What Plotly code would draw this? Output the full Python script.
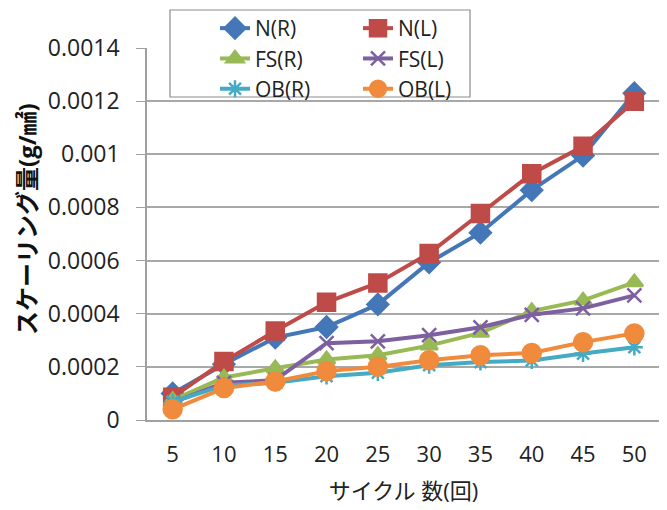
import plotly.graph_objects as go

cycles = ["5", "10", "15", "20", "25", "30", "35", "40", "45", "50"]
n_r = [0.000100, 0.000210, 0.000310, 0.000350, 0.000435, 0.000593, 0.000705, 0.000865, 0.000995, 0.001230]
n_l = [0.000086, 0.000220, 0.000335, 0.000443, 0.000516, 0.000627, 0.000777, 0.000927, 0.001030, 0.001200]
fs_r = [0.000075, 0.000160, 0.000195, 0.000228, 0.000244, 0.000280, 0.000328, 0.000410, 0.000450, 0.000518]
fs_l = [0.000065, 0.000140, 0.000150, 0.000289, 0.000296, 0.000319, 0.000349, 0.000396, 0.000420, 0.000469]
ob_r = [0.000068, 0.000130, 0.000140, 0.000165, 0.000178, 0.000206, 0.000218, 0.000224, 0.000250, 0.000274]
ob_l = [0.000040, 0.000120, 0.000145, 0.000184, 0.000200, 0.000225, 0.000244, 0.000252, 0.000293, 0.000326]

ytick_vals = [0, 0.0002, 0.0004, 0.0006, 0.0008, 0.001, 0.0012, 0.0014]
ytick_text = ["0", "0.0002", "0.0004", "0.0006", "0.0008", "0.001", "0.0012", "0.0014"]

x_title = "サイクル 数(回)"
y_title = "スケーリング量(g/㎟)"

series = [
    ("N(R)", n_r, "#4477B8", "diamond", 16, "legend"),
    ("FS(R)", fs_r, "#98B954", "triangle-up", 15, "legend"),
    ("OB(R)", ob_r, "#46AAC5", "asterisk-open", 14, "legend"),
    ("N(L)", n_l, "#BE4B48", "square", 17, "legend2"),
    ("FS(L)", fs_l, "#7D60A0", "x-thin-open", 14, "legend2"),
    ("OB(L)", ob_l, "#F08A3C", "circle", 18, "legend2"),
]
draw_order = [0, 3, 1, 4, 2, 5]

fig = go.Figure()
for i in draw_order:
    name, vals, col, sym, size, lg = series[i]
    fig.add_trace(go.Scatter(
        x=cycles, y=vals, name=name, mode="lines+markers",
        line=dict(color=col, width=4),
        marker=dict(symbol=sym, size=size, color=col, line=dict(color=col, width=2.5)),
        legend=lg,
        legendrank=i,
    ))

FONT = "Open Sans, Noto Sans CJK JP, sans-serif"
L, T, PW, PH = 139, 40, 513, 372
W, H = 659, 502


def px_x(sx):
    return (sx - 8 - L) / PW


def px_y(sy):
    return (T + PH - (sy - 8)) / PH


fig.update_layout(
    width=W, height=H,
    margin=dict(l=L, r=W - L - PW, t=T, b=H - T - PH, pad=0, autoexpand=False),
    paper_bgcolor="white", plot_bgcolor="white",
    font=dict(family=FONT, size=20, color="#222"),
    showlegend=True,
    legend=dict(x=px_x(215), y=px_y(8), xanchor="left", yanchor="top",
                bgcolor="rgba(0,0,0,0)", font=dict(size=21, color="#222"), tracegroupgap=0,
                itemwidth=30),
    legend2=dict(x=px_x(358), y=px_y(8), xanchor="left", yanchor="top",
                 bgcolor="rgba(0,0,0,0)", font=dict(size=21, color="#222"), tracegroupgap=0,
                 itemwidth=30),
    xaxis=dict(
        type="category", range=[-0.5, 9.5],
        showline=True, linecolor="#A0A0A0", linewidth=1.5,
        showgrid=False, ticks="", tickfont=dict(size=22, color="#222"),
        ticklabelstandoff=14,
        title=dict(text=x_title, font=dict(size=22, color="#222"), standoff=16),
    ),
    yaxis=dict(
        range=[0, 0.0014], tickvals=ytick_vals, ticktext=ytick_text,
        showline=True, linecolor="#A0A0A0", linewidth=1.5,
        showgrid=True, gridcolor="#A8A8A8", gridwidth=1.5,
        ticks="outside", ticklen=9, tickcolor="#A0A0A0",
        ticklabelstandoff=12,
        tickfont=dict(size=23, color="#222"), zeroline=False,
    ),
    annotations=[dict(
        text="<b>" + y_title + "</b>", textangle=-90,
        xref="paper", yref="paper", x=px_x(26), y=px_y(219),
        xanchor="center", yanchor="middle", showarrow=False,
        font=dict(size=24, color="#111"),
    )],
    shapes=[dict(type="rect", xref="paper", yref="paper",
                 x0=px_x(170), x1=px_x(470), y0=px_y(97), y1=px_y(10),
                 line=dict(color="#8C8C8C", width=1.2), fillcolor="rgba(0,0,0,0)")],
)

fig.write_html("out.html")
